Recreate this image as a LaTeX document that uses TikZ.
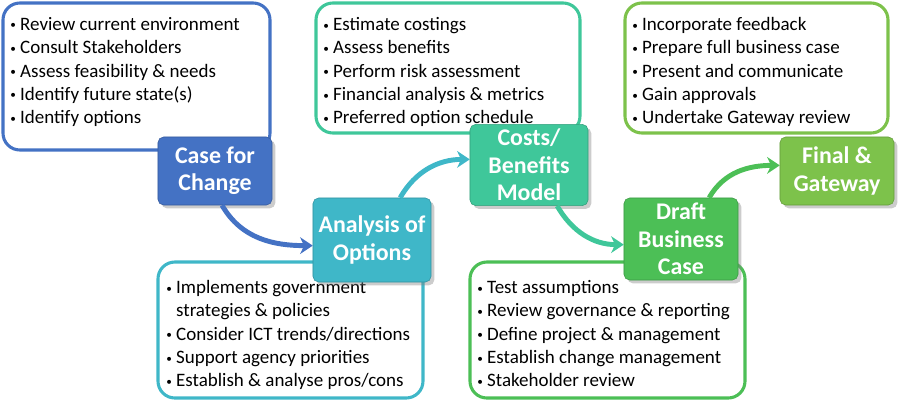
\documentclass[tikz,border=0pt]{standalone}
\usepackage{fontspec}
\setmainfont{Carlito}
\usetikzlibrary{shadows,arrows.meta}
\definecolor{cblue}{HTML}{4472C4}
\definecolor{cteal}{HTML}{3FB7C8}
\definecolor{cmint}{HTML}{3FC79A}
\definecolor{cgreen}{HTML}{4CBF56}
\definecolor{clime}{HTML}{7DC24B}
\newcommand{\bul}{\raisebox{1pt}{\footnotesize\textbullet}\ }
\tikzset{
	frame/.style={draw=#1,line width=2.2pt,rounded corners=12pt,fill=white},
	list/.style={anchor=north west,align=left,font=\fontsize{13.5}{16.6}\selectfont,inner sep=0pt},
	stage/.style={fill=#1,draw=#1!80!black,rounded corners=4pt,text=white,font=\fontsize{17}{19.5}\selectfont\bfseries,align=center,drop shadow={opacity=0.4}},
	flow/.style={line width=3.5pt,draw=#1,-{Stealth[length=9pt,width=12pt]}}
}
\begin{document}
\begin{tikzpicture}[x=0.025cm,y=-0.025cm]
	\useasboundingbox (0,0) rectangle (902,404);
	% frames with tasks
	\draw[frame=cblue] (3,3) rectangle (270,150);
	\draw[frame=cteal] (158,262) rectangle (423,398);
	\draw[frame=cmint] (316,3) rectangle (580,133);
	\draw[frame=cgreen] (470,262) rectangle (745,398);
	\draw[frame=clime] (625,3) rectangle (888,133);
	\node[list] (tasks1) at (10,17) {\bul Review current environment\\ \bul Consult Stakeholders\\ \bul Assess feasibility \& needs\\ \bul Identify future state(s)\\ \bul Identify options};
	\node[list] (tasks2) at (166,280) {\bul Implements government\\ \phantom{\bul}strategies \& policies\\ \bul Consider ICT trends/directions\\ \bul Support agency priorities\\ \bul Establish \& analyse pros/cons};
	\node[list] (tasks3) at (323,17) {\bul Estimate costings\\ \bul Assess benefits\\ \bul Perform risk assessment\\ \bul Financial analysis \& metrics\\ \bul Preferred option schedule};
	\node[list] (tasks4) at (477,280) {\bul Test assumptions\\ \bul Review governance \& reporting\\ \bul Define project \& management\\ \bul Establish change management\\ \bul Stakeholder review};
	\node[list] (tasks5) at (632,17) {\bul Incorporate feedback\\ \bul Prepare full business case\\ \bul Present and communicate\\ \bul Gain approvals\\ \bul Undertake Gateway review};
	% stages
	\node[stage=cblue,minimum width=2.85cm,minimum height=1.7cm] (case) at (215,171) {Case for\\Change};
	\node[stage=cteal,minimum width=2.95cm,minimum height=2.1cm] (options) at (372,240) {Analysis of\\Options};
	\node[stage=cmint,minimum width=2.95cm,minimum height=1.75cm] (costs) at (529,165) {Costs/\\Benefits\\Model};
	\node[stage=cgreen,minimum width=2.85cm,minimum height=2.05cm] (draft) at (681,239) {Draft\\Business\\Case};
	\node[stage=clime,minimum width=2.85cm,minimum height=1.7cm] (final) at (837,171) {Final \&\\Gateway};
	% connectors
	\draw[flow=cblue] ([xshift=5pt]case.south) to[out=-60,in=180] ([yshift=-4pt]options.west);
	\draw[flow=cteal] ([xshift=20pt]options.north) to[out=60,in=180] ([yshift=4pt]costs.west);
	\draw[flow=cmint] ([xshift=20pt]costs.south) to[out=-60,in=180] ([yshift=-4pt]draft.west);
	\draw[flow=cgreen] ([xshift=20pt]draft.north) to[out=60,in=180] ([yshift=4pt]final.west);
\end{tikzpicture}
\end{document}
